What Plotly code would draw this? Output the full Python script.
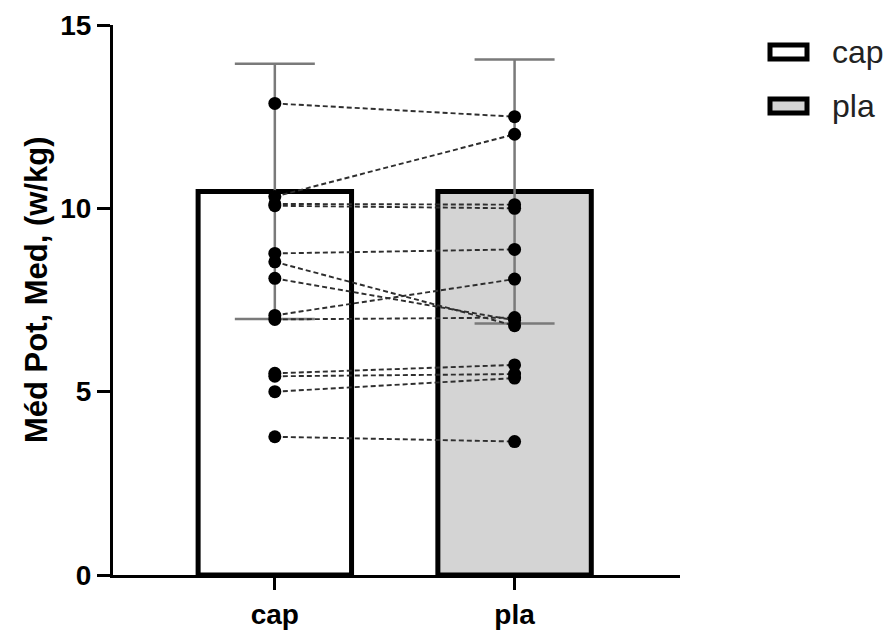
import plotly.graph_objects as go

# Group labels and summary statistics (bar height = mean, error = SD)
groups = ["cap", "pla"]
group_pos = [0, 1]
bar_means = [10.46, 10.46]
bar_sd = [3.48, 3.6]
bar_fills = ["#ffffff", "#d4d4d4"]

# Paired individual values (cap -> pla)
cap_vals = [12.86, 10.32, 10.12, 10.07, 8.77, 8.54, 8.09, 7.08, 6.97, 5.50, 5.42, 5.00, 3.77]
pla_vals = [12.50, 12.02, 10.10, 10.00, 8.88, 6.80, 6.95, 8.07, 7.02, 5.73, 5.48, 5.37, 3.64]

y_ticks = [0, 5, 10, 15]
y_title = "Méd Pot, Med, (w/kg)"

FONT = "Liberation Sans, Arial, sans-serif"

# plot area in pixels
L, R, T, B = 113, 680, 25, 575
PW, PH = R - L, B - T

fig = go.Figure()

for g, x, m, sd, fill in zip(groups, group_pos, bar_means, bar_sd, bar_fills):
    fig.add_trace(go.Bar(
        x=[x], y=[m], width=0.64, name=g,
        marker=dict(color=fill, line=dict(color="#000000", width=5)),
        error_y=dict(type="data", array=[sd], visible=True,
                     color="#7a7a7a", thickness=2.5, width=40),
        showlegend=False,
    ))

# Dashed lines joining each subject's two values
for a, b in zip(cap_vals, pla_vals):
    fig.add_trace(go.Scatter(
        x=group_pos, y=[a, b], mode="lines",
        line=dict(color="#2e2e2e", width=1.9, dash="5px,3px"),
        showlegend=False, hoverinfo="skip",
    ))

# Individual points
for x, vals in zip(group_pos, [cap_vals, pla_vals]):
    fig.add_trace(go.Scatter(
        x=[x] * len(vals), y=vals, mode="markers",
        marker=dict(color="#000000", size=13),
        showlegend=False,
    ))

# Legend drawn as boxes with labels
legend_y = [52, 106]
for g, fill, py in zip(groups, bar_fills, legend_y):
    fig.add_shape(type="rect", xref="paper", yref="paper",
                  x0=(770 - L) / PW, x1=(807 - L) / PW,
                  y0=(B - py - 7) / PH, y1=(B - py + 7) / PH,
                  fillcolor=fill, line=dict(color="#000000", width=5))
    fig.add_annotation(xref="paper", yref="paper",
                       x=(830 - L) / PW, y=(B - py) / PH,
                       text=g, showarrow=False, xanchor="left", yanchor="middle",
                       font=dict(family=FONT, size=32, color="#222222"))

# Y axis title
fig.add_annotation(xref="paper", yref="paper",
                   x=(36 - L) / PW, y=(B - 290) / PH,
                   text=y_title, textangle=-90, showarrow=False,
                   xanchor="center", yanchor="middle",
                   font=dict(family=FONT, size=31, color="#000000", weight="bold"))

fig.update_layout(
    width=891, height=632,
    margin=dict(l=L, r=891 - R, t=T, b=632 - B, autoexpand=False),
    paper_bgcolor="#ffffff", plot_bgcolor="#ffffff",
    barmode="overlay",
    font=dict(family=FONT, color="#000000"),
    xaxis=dict(
        range=[-0.675, 1.69], tickvals=group_pos, ticktext=groups,
        showgrid=False, zeroline=False, automargin=False,
        showline=True, linecolor="#000000", linewidth=3,
        ticks="outside", ticklen=12, tickwidth=3, tickcolor="#000000",
        tickfont=dict(family=FONT, size=28, color="#000000", weight="bold"),
    ),
    yaxis=dict(
        range=[0, 15], tickvals=y_ticks,
        showgrid=False, zeroline=False, automargin=False,
        showline=True, linecolor="#000000", linewidth=3,
        ticks="outside", ticklen=13, tickwidth=3, tickcolor="#000000",
        tickfont=dict(family=FONT, size=28, color="#000000", weight="bold"),
    ),
)

fig.write_html("out.html")
